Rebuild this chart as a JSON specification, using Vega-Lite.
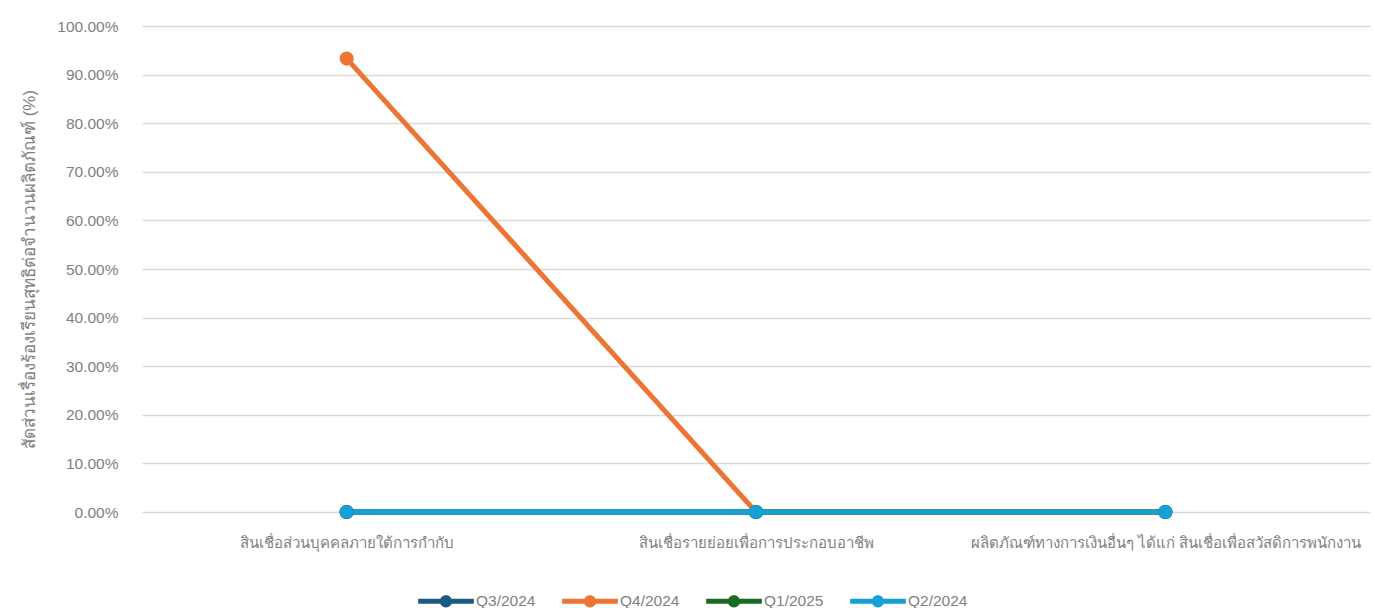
{
  "$schema": "https://vega.github.io/schema/vega-lite/v6.json",
  "autosize": "none",
  "width": 1228,
  "height": 486,
  "padding": {"left": 142, "top": 26, "right": 5, "bottom": 96},
  "background": "white",
  "config": {
    "view": {"stroke": null},
    "font": "Liberation Sans",
    "axis": {"labelFont": "Liberation Sans", "titleFont": "Liberation Sans"}
  },
  "data": {
    "values": [
      {"cat": "สินเชื่อส่วนบุคคลภายใต้การกำกับ", "series": "Q3/2024", "order": 1, "value": 0},
      {"cat": "สินเชื่อรายย่อยเพื่อการประกอบอาชีพ", "series": "Q3/2024", "order": 1, "value": 0},
      {"cat": "ผลิตภัณฑ์ทางการเงินอื่นๆ ได้แก่ สินเชื่อเพื่อสวัสดิการพนักงาน", "series": "Q3/2024", "order": 1, "value": 0},
      {"cat": "สินเชื่อส่วนบุคคลภายใต้การกำกับ", "series": "Q4/2024", "order": 2, "value": 0.933},
      {"cat": "สินเชื่อรายย่อยเพื่อการประกอบอาชีพ", "series": "Q4/2024", "order": 2, "value": 0},
      {"cat": "ผลิตภัณฑ์ทางการเงินอื่นๆ ได้แก่ สินเชื่อเพื่อสวัสดิการพนักงาน", "series": "Q4/2024", "order": 2, "value": 0},
      {"cat": "สินเชื่อส่วนบุคคลภายใต้การกำกับ", "series": "Q1/2025", "order": 3, "value": 0},
      {"cat": "สินเชื่อรายย่อยเพื่อการประกอบอาชีพ", "series": "Q1/2025", "order": 3, "value": 0},
      {"cat": "ผลิตภัณฑ์ทางการเงินอื่นๆ ได้แก่ สินเชื่อเพื่อสวัสดิการพนักงาน", "series": "Q1/2025", "order": 3, "value": 0},
      {"cat": "สินเชื่อส่วนบุคคลภายใต้การกำกับ", "series": "Q2/2024", "order": 4, "value": 0},
      {"cat": "สินเชื่อรายย่อยเพื่อการประกอบอาชีพ", "series": "Q2/2024", "order": 4, "value": 0},
      {"cat": "ผลิตภัณฑ์ทางการเงินอื่นๆ ได้แก่ สินเชื่อเพื่อสวัสดิการพนักงาน", "series": "Q2/2024", "order": 4, "value": 0}
    ]
  },
  "encoding": {
    "x": {
      "field": "cat", "type": "nominal", "sort": null,
      "scale": {"type": "point", "padding": 0.5},
      "axis": {
        "title": null, "labelAngle": 0, "domain": false, "ticks": false,
        "labelFontSize": 15, "labelColor": "#7f7f7f", "labelPadding": 23,
        "labelLimit": 600
      }
    },
    "y": {
      "field": "value", "type": "quantitative",
      "scale": {"domain": [0, 1]},
      "axis": {
        "title": "สัดส่วนเรื่องร้องเรียนสุทธิต่อจำนวนผลิตภัณฑ์ (%)",
        "format": ".2%", "values": [0,0.1,0.2,0.3,0.4,0.5,0.6,0.7,0.8,0.9,1],
        "labelOverlap": false,
        "domain": false, "ticks": false,
        "labelFontSize": 15.5, "labelColor": "#7f7f7f", "labelPadding": 24,
        "titleFontSize": 17, "titleFontWeight": "normal", "titleColor": "#7f7f7f", "titlePadding": 18,
        "gridColor": "#d9d9d9", "gridWidth": 1.5
      }
    },
    "color": {
      "field": "series", "type": "nominal",
      "sort": ["Q3/2024", "Q4/2024", "Q1/2025", "Q2/2024"],
      "scale": {
        "domain": ["Q3/2024", "Q4/2024", "Q1/2025", "Q2/2024"],
        "range": ["#1b5a83", "#ee7433", "#1b6a23", "#15a0d8"]
      },
      "legend": {
        "title": null, "orient": "none", "direction": "horizontal",
        "legendX": 276, "legendY": 547,
        "symbolType": "M-1,-0.09L1,-0.09L1,0.09L-1,0.09Z M0.22,0A0.22,0.22 0 1,1 -0.22,0A0.22,0.22 0 1,1 0.22,0Z",
        "symbolSize": 3100, "symbolStrokeWidth": 0, "symbolOpacity": 1,
        "labelFontSize": 15.5, "labelColor": "#7f7f7f", "labelOffset": 2,
        "columnPadding": 26
      }
    },
    "order": {"field": "order"}
  },
  "layer": [
    {"mark": {"type": "line", "strokeWidth": 5}, "encoding": {"detail": {"field": "series"}}},
    {"mark": {"type": "circle", "size": 200, "opacity": 1}}
  ]
}
